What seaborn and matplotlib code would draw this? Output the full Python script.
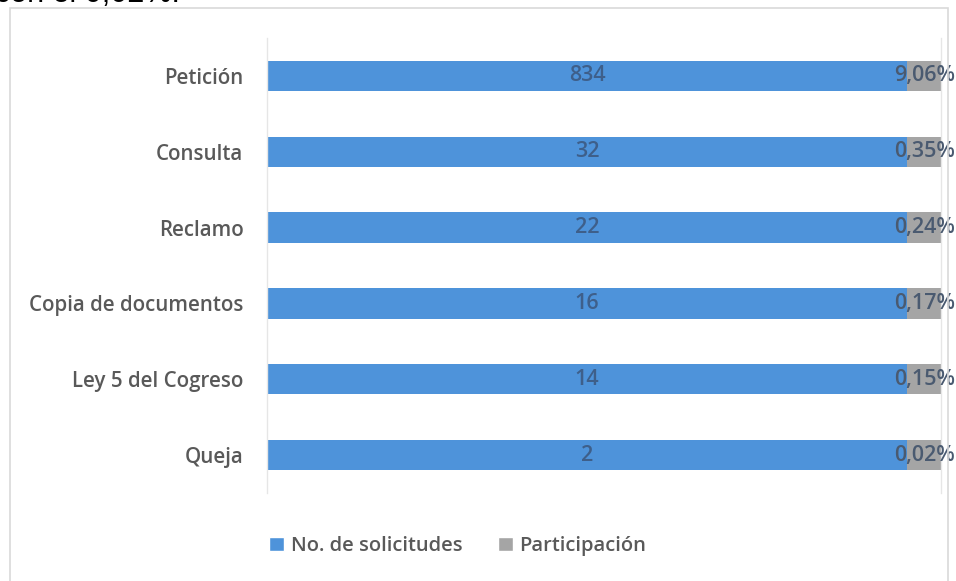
import numpy as np
import pandas as pd
import seaborn as sns
import matplotlib.pyplot as plt
from matplotlib.patches import Rectangle, Patch

# data
categorias = ["Petición", "Consulta", "Reclamo", "Copia de documentos",
              "Ley 5 del Cogreso", "Queja"]
solicitudes = [834, 32, 22, 16, 14, 2]
participacion = ["9,06%", "0,35%", "0,24%", "0,17%", "0,15%", "0,02%"]
# shares of the bar length as drawn (100% stacked)
share_solicitudes = [95, 95, 95, 95, 95, 95]
share_participacion = [5, 5, 5, 5, 5, 5]

azul = "#4E93DA"
gris = "#A5A5A5"
texto = "#595959"

sns.set_theme(style="white")
plt.rcParams['font.family'] = ['Open Sans', 'DejaVu Sans']

df = pd.DataFrame({"cat": categorias,
                   "azul": share_solicitudes,
                   "total": np.array(share_solicitudes) + np.array(share_participacion)})

fig = plt.figure(figsize=(9.56, 5.81), dpi=100)
fig.patch.set_facecolor("white")
# chart frame
fig.patches.append(Rectangle((10/956, -0.01), 938/956, 1 - 8/581 + 0.01,
                             transform=fig.transFigure, fill=False,
                             edgecolor="#D9D9D9", linewidth=1.2))
# cut-off line of the surrounding document text (only its lower edge shows)
fig.text(-0.005, 1 - 2.5/581, "con el 0,02%.", fontsize=22, color="black",
         ha="left", va="baseline", family=["Liberation Sans", "DejaVu Sans"])

ax = fig.add_axes([267/956, 1 - 493/581, (941 - 267)/956, (493 - 38)/581])
sns.barplot(data=df, x="total", y="cat", color=gris, width=0.4,
            orient="h", ax=ax, saturation=1, linewidth=0)
sns.barplot(data=df, x="azul", y="cat", color=azul, width=0.4,
            orient="h", ax=ax, saturation=1, linewidth=0)

ax.set_xlim(0, 100)
ax.set_ylim(5.5, -0.5)
ax.set_xlabel("")
ax.set_ylabel("")
ax.set_xticks([])
ax.tick_params(axis="y", length=0, pad=17, labelcolor=texto)
for lab in ax.get_yticklabels():
    lab.set_fontsize(14.8)
    lab.set_fontweight("semibold")
for s in ["top", "bottom"]:
    ax.spines[s].set_visible(False)
for s in ["left", "right"]:
    ax.spines[s].set_color("#E6E6E6")
    ax.spines[s].set_linewidth(1)

for i in range(len(categorias)):
    ax.text(share_solicitudes[i] / 2, i, str(solicitudes[i]), ha="center",
            va="center", fontsize=15.5, fontweight="semibold", color="#3E5F8A")
    ax.text(share_solicitudes[i] + share_participacion[i] / 2, i, participacion[i],
            ha="center", va="center", fontsize=15.5, fontweight="semibold",
            color="#4A5A70")

handles = [Patch(facecolor=azul, label="No. de solicitudes"),
           Patch(facecolor=gris, label="Participación")]
fig.legend(handles=handles, loc="center", bbox_to_anchor=(458/956, 1 - 546/581),
           ncol=2, frameon=False, prop={"size": 14.5, "weight": "semibold"},
           labelcolor=texto, handlelength=0.7, handleheight=0.7,
           handletextpad=0.35, columnspacing=1.8)

fig.savefig("out.png", dpi=100, facecolor="white")
